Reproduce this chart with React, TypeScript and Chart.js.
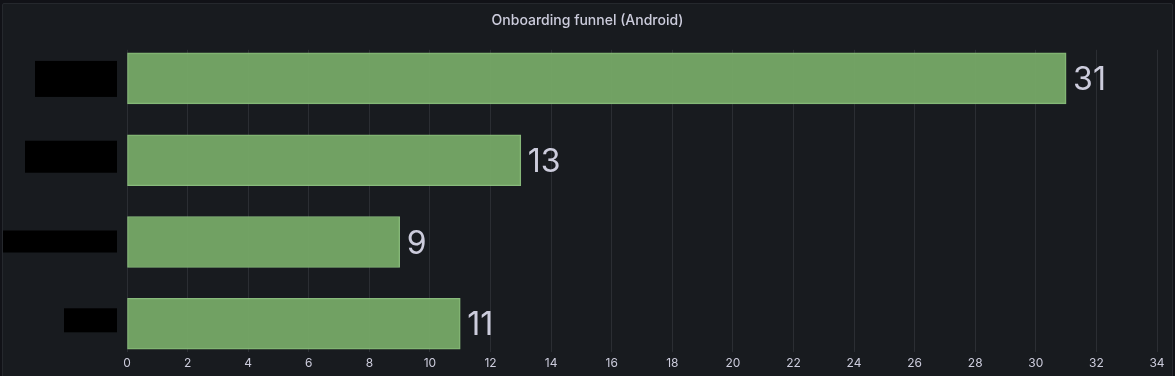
import React, { useEffect, useRef } from 'react';
import { Chart, registerables } from 'chart.js';

Chart.register(...registerables);

// Category labels are redacted (black boxes) in the reference
const categories: string[] = ['Step 1', 'Step 2', 'Step 3', 'Step 4'];
const values: number[] = [31, 13, 9, 11];
const xMin = 0;
const xMax = 34;
const xStep = 2;
const title = 'Onboarding funnel (Android)';

// redaction box styling (width, height, top offset from bar centre)
const boxW = [82, 92, 114, 53];
const boxH = [36, 32, 22, 24];
const boxTopOffset = [-17.5, -19.5, -11.5, -15.5];

const FONT = 'Inter, "Noto Sans", sans-serif';
const TEXT = '#ccccdc';

const valueLabels = {
  id: 'valueLabels',
  afterDatasetsDraw(chart: any) {
    const ctx = chart.ctx;
    const meta = chart.getDatasetMeta(0);
    ctx.save();
    ctx.font = `32px ${FONT}`;
    ctx.fillStyle = TEXT;
    ctx.textAlign = 'left';
    ctx.textBaseline = 'middle';
    meta.data.forEach((bar: any, i: number) => {
      ctx.fillText(String(values[i]), bar.x + 7, bar.y + 2);
    });
    ctx.restore();
  },
};

// category labels, drawn as black text on black redaction boxes
const redactedLabels = {
  id: 'redactedLabels',
  afterDraw(chart: any) {
    const ctx = chart.ctx;
    const y = chart.scales.y;
    const right = chart.chartArea.left - 10;
    ctx.save();
    ctx.font = `12px ${FONT}`;
    ctx.textAlign = 'right';
    ctx.textBaseline = 'middle';
    categories.forEach((label, i) => {
      const py = y.getPixelForValue(i);
      ctx.fillStyle = '#000';
      ctx.fillRect(right - boxW[i], py + boxTopOffset[i], boxW[i], boxH[i]);
      ctx.fillText(label, right - 2, py + boxTopOffset[i] + boxH[i] / 2);
    });
    ctx.restore();
  },
};

export default function App() {
  const ref = useRef<HTMLCanvasElement>(null);

  useEffect(() => {
    if (!ref.current) return;
    const chart = new Chart(ref.current, {
      type: 'bar',
      data: {
        datasets: [
          {
            data: values.map((v, i) => ({ x: v, y: i })),
            backgroundColor: 'rgba(122,173,105,0.92)',
            borderColor: 'rgba(150,205,135,0.9)',
            borderWidth: 1,
            borderSkipped: false,
            barThickness: 51,
          },
        ],
      },
      options: {
        indexAxis: 'y',
        animation: false,
        responsive: false,
        devicePixelRatio: 1,
        layout: { padding: { left: 18, right: 18, top: 0, bottom: 0 } },
        plugins: {
          legend: { display: false },
          tooltip: { enabled: false },
          title: {
            display: true,
            text: title,
            color: TEXT,
            font: { family: FONT, size: 14, weight: '500' },
            padding: { top: 12, bottom: 21 },
          },
        },
        scales: {
          x: {
            type: 'linear',
            min: xMin,
            max: xMax,
            z: 1,
            ticks: {
              stepSize: xStep,
              color: TEXT,
              font: { family: FONT, size: 12 },
              padding: 5,
            },
            grid: { color: 'rgba(204,204,220,0.11)', drawTicks: false },
            border: { display: false },
          },
          y: {
            type: 'linear',
            reverse: true,
            offset: false,
            min: -0.35,
            max: 3.34,
            afterBuildTicks: (scale: any) => {
              scale.ticks = categories.map((_, i) => ({ value: i }));
            },
            afterFit: (scale: any) => {
              scale.width = 109;
            },
            ticks: { display: false },
            grid: { display: false, offset: false },
            border: { display: false },
          },
        },
      } as any,
      plugins: [valueLabels, redactedLabels],
    });
    return () => chart.destroy();
  }, []);

  return (
    <div style={{ position: 'fixed', inset: 0, background: '#111217', overflow: 'hidden' }}>
      <div
        style={{
          position: 'absolute',
          left: 2,
          top: 3,
          right: 2,
          bottom: -4,
          background: '#181b1f',
          border: '1px solid #25282d',
          borderRadius: 2,
        }}
      />
      <canvas
        ref={ref}
        width={1175}
        height={376}
        style={{ position: 'absolute', left: 0, top: 0, width: 1175, height: 376 }}
      />
    </div>
  );
}
